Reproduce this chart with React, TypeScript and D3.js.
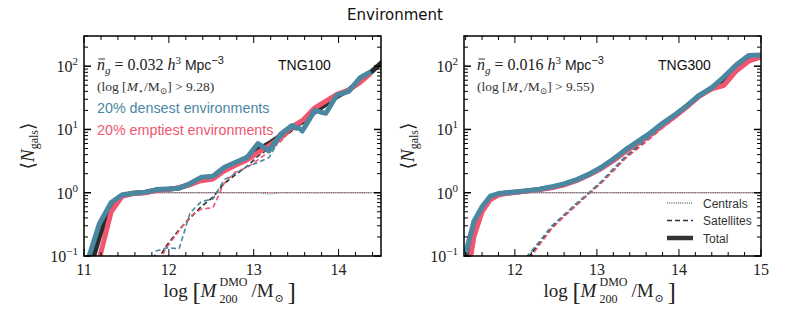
import React from "react";
import * as d3 from "d3";

const W = 789;
const H = 329;
const TEAL = "#4a87a1";
const PINK = "#f0566f";
const BLACK = "#2b2b2b";
const SERIF = "'Liberation Serif', 'DejaVu Serif', serif";
const SANS = "'DejaVu Sans', sans-serif";
const SANS2 = "'Liberation Sans', Arial, sans-serif";

// ---- TNG100 (left panel) ----
const massL = [11.05, 11.18, 11.32, 11.45, 11.58, 11.72, 11.85, 11.98, 12.12, 12.25, 12.38, 12.52, 12.65, 12.78, 12.92, 13.05, 13.18, 13.32, 13.45, 13.58, 13.72, 13.85, 13.98, 14.12, 14.25, 14.38, 14.52];
const totAllL = [0.05, 0.2, 0.62, 0.9, 0.98, 1.01, 1.1, 1.13, 1.19, 1.35, 1.6, 1.8, 2.4, 2.9, 3.6, 4.8, 6.0, 8.0, 10.5, 13.5, 19, 25, 33, 42, 58, 80, 118];
const satAllL = [0.03, 0.03, 0.03, 0.03, 0.03, 0.03, 0.08, 0.15, 0.26, 0.4, 0.6, 0.85, 1.4, 1.9, 2.6, 3.8, 5.0, 7.0, 9.5, 12.5, 18, 24, 32, 41, 57, 79, 117];
const cenAllL = [0.05, 0.2, 0.62, 0.9, 0.98, 1.0, 1.0, 1.0, 1.0, 1.0, 1.0, 1.0, 1.0, 1.0, 1.0, 1.0, 1.0, 1.0, 1.0, 1.0, 1.0, 1.0, 1.0, 1.0, 1.0, 1.0, 1.0];
const totEmptyL = [0.03, 0.09, 0.5, 0.88, 0.97, 1.0, 1.08, 1.12, 1.2, 1.35, 1.55, 1.65, 2.2, 2.7, 3.3, 4.3, 5.5, 7.5, 11, 14, 22, 28, 36, 42, 55, 78];
const satEmptyL = [0.03, 0.03, 0.03, 0.03, 0.03, 0.03, 0.07, 0.14, 0.25, 0.42, 0.55, 0.58, 1.4, 2.1, 2.5, 3.3, 4.5, 6.5, 10, 13, 21, 27, 35, 41, 54, 77];
const cenEmptyL = [0.03, 0.09, 0.5, 0.88, 0.97, 1.0, 1.0, 1.0, 1.0, 1.0, 1.0, 1.0, 1.0, 1.0, 1.0, 1.0, 1.0, 1.0, 1.0, 1.0, 0.99, 1.0, 1.0, 1.0, 1.0, 1.0];
const totDenseL = [0.09, 0.32, 0.7, 0.93, 0.98, 1.02, 1.12, 1.15, 1.18, 1.4, 1.75, 1.82, 2.5, 3.0, 3.6, 6.0, 4.6, 8.5, 11.5, 9.8, 20, 18, 35, 40, 65, 82];
const satDenseL = [0.03, 0.03, 0.03, 0.03, 0.03, 0.03, 0.12, 0.135, 0.13, 0.48, 0.72, 0.8, 1.6, 2.0, 2.6, 3.0, 3.6, 7.5, 10.5, 8.8, 19, 17, 34, 39, 64, 81];
const cenDenseL = [0.09, 0.32, 0.7, 0.93, 0.98, 1.0, 1.0, 1.0, 1.0, 1.0, 1.0, 1.0, 1.0, 1.0, 1.0, 1.0, 0.95, 1.0, 1.0, 1.0, 1.0, 1.0, 1.0, 1.0, 1.0, 1.0];

// ---- TNG300 (right panel) ----
const massR = [11.4, 11.5, 11.6, 11.7, 11.8, 11.9, 12.0, 12.15, 12.3, 12.45, 12.6, 12.75, 12.9, 13.05, 13.2, 13.35, 13.5, 13.65, 13.8, 13.95, 14.1, 14.25, 14.4, 14.55, 14.7, 14.85, 15.0];
const totAllR = [0.07, 0.3, 0.58, 0.85, 0.95, 0.99, 1.02, 1.07, 1.13, 1.22, 1.35, 1.58, 1.92, 2.45, 3.3, 4.6, 6.3, 8.5, 12, 16.5, 23.5, 34, 45, 62, 95, 125, 140];
const satAllR = [0.01, 0.01, 0.01, 0.01, 0.01, 0.01, 0.01, 0.09, 0.16, 0.28, 0.43, 0.65, 0.97, 1.45, 2.3, 3.6, 5.3, 7.5, 11, 15.5, 22.5, 33, 44, 61, 94, 124, 139];
const cenAllR = [0.07, 0.3, 0.58, 0.85, 0.95, 0.99, 1.0, 1.0, 1.0, 1.0, 1.0, 1.0, 1.0, 1.0, 1.0, 1.0, 1.0, 1.0, 1.0, 1.0, 1.0, 1.0, 1.0, 1.0, 1.0, 1.0, 1.0];
const totEmptyR = [0.03, 0.2, 0.5, 0.78, 0.92, 0.98, 1.01, 1.06, 1.12, 1.2, 1.33, 1.55, 1.9, 2.4, 3.2, 4.5, 6.0, 8.2, 11.5, 16, 23, 34, 44, 50, 85, 120, 142];
const satEmptyR = [0.01, 0.01, 0.01, 0.01, 0.01, 0.01, 0.01, 0.08, 0.15, 0.27, 0.42, 0.63, 0.95, 1.4, 2.2, 3.5, 5.0, 7.2, 10.5, 15, 22, 33, 43, 49, 84, 119, 141];
const cenEmptyR = [0.03, 0.2, 0.5, 0.78, 0.92, 0.98, 1.0, 1.0, 1.0, 1.0, 1.0, 1.0, 1.0, 1.0, 1.0, 1.0, 1.0, 1.0, 1.0, 1.0, 1.0, 1.0, 1.0, 1.0, 1.0, 1.0, 1.0];
const totDenseR = [0.11, 0.35, 0.6, 0.88, 0.97, 1.0, 1.03, 1.08, 1.14, 1.24, 1.38, 1.6, 1.95, 2.5, 3.4, 4.8, 6.5, 8.8, 12.5, 17, 24, 35, 46, 68, 105, 148, 150];
const satDenseR = [0.01, 0.01, 0.01, 0.01, 0.01, 0.01, 0.01, 0.1, 0.17, 0.3, 0.45, 0.68, 1.0, 1.5, 2.4, 3.8, 5.5, 7.8, 11.5, 16, 23, 34, 45, 67, 104, 147, 149];
const cenDenseR = [0.11, 0.35, 0.6, 0.88, 0.97, 1.0, 1.0, 1.0, 1.0, 1.0, 1.0, 1.0, 1.0, 1.0, 1.0, 1.0, 1.0, 1.0, 1.0, 1.0, 1.0, 1.0, 1.0, 1.0, 1.0, 1.0, 1.0];

const yMajor = [0.1, 1, 10, 100];
const yMajorExp = ["\u22121", "0", "1", "2"];
const legendLabels = ["Centrals", "Satellites", "Total"];

const TOP = 36;
const BOTTOM = 256;

type Curve = { m: number[]; v: number[]; color: string; kind: "cen" | "sat" | "tot" };

function styleFor(kind: string) {
  if (kind === "tot") return { w: 5, dash: undefined };
  if (kind === "sat") return { w: 1.6, dash: "5 3" };
  return { w: 1, dash: "1 1.2" };
}

function Panel(props: {
  id: string;
  left: number;
  right: number;
  xDomain: [number, number];
  xMajor: number[];
  xMinor: number[];
  curves: Curve[];
  density: string;
  cut: string;
  sim: string;
  showEnv?: boolean;
  showLegend?: boolean;
}) {
  const { id, left, right, xDomain, xMajor, xMinor, curves } = props;
  const x = d3.scaleLinear().domain(xDomain).range([left, right]);
  const y = d3.scaleLog().domain([0.1, 300]).range([BOTTOM, TOP]);
  const line = d3
    .line<[number, number]>()
    .x((d) => x(d[0]))
    .y((d) => y(Math.max(d[1], 0.01)));

  const yMinor: number[] = [];
  [0.1, 1, 10, 100].forEach((dec) => {
    [2, 3, 4, 5, 6, 7, 8, 9].forEach((k) => {
      const v = k * dec;
      if (v <= 300) yMinor.push(v);
    });
  });

  const cx = (left + right) / 2;
  const tx = left + 13;
  const axisColor = "#000";

  return (
    <g>
      <defs>
        <clipPath id={id}>
          <rect x={left} y={TOP} width={right - left} height={BOTTOM - TOP} />
        </clipPath>
      </defs>

      {/* curves */}
      <g clipPath={`url(#${id})`} fill="none">
        {curves.map((c, i) => {
          const s = styleFor(c.kind);
          return (
            <path
              key={i}
              d={line(c.m.slice(0, c.v.length).map((m, j) => [m, c.v[j]] as [number, number])) || ""}
              stroke={c.color}
              strokeWidth={s.w}
              strokeDasharray={s.dash}
              strokeLinejoin="round"
            />
          );
        })}
      </g>

      {/* ticks */}
      <g stroke={axisColor} strokeWidth={1}>
        {xMajor.map((t) => (
          <g key={"xM" + t}>
            <line x1={x(t)} x2={x(t)} y1={BOTTOM} y2={BOTTOM - 7} />
            <line x1={x(t)} x2={x(t)} y1={TOP} y2={TOP + 7} />
          </g>
        ))}
        {xMinor.map((t) => (
          <g key={"xm" + t}>
            <line x1={x(t)} x2={x(t)} y1={BOTTOM} y2={BOTTOM - 4} />
            <line x1={x(t)} x2={x(t)} y1={TOP} y2={TOP + 4} />
          </g>
        ))}
        {yMajor.map((t) => (
          <g key={"yM" + t} strokeWidth={1.5}>
            <line x1={left} x2={left + 7} y1={y(t)} y2={y(t)} />
            <line x1={right} x2={right - 7} y1={y(t)} y2={y(t)} />
          </g>
        ))}
        {yMinor.map((t) => (
          <g key={"ym" + t}>
            <line x1={left} x2={left + 4} y1={y(t)} y2={y(t)} />
            <line x1={right} x2={right - 4} y1={y(t)} y2={y(t)} />
          </g>
        ))}
      </g>
      <rect x={left} y={TOP} width={right - left} height={BOTTOM - TOP} fill="none" stroke={axisColor} strokeWidth={1.5} />

      {/* tick labels */}
      <g fontFamily={SERIF} fontSize={16} fill="#222">
        {xMajor.map((t) => (
          <text key={"xl" + t} x={x(t)} y={275} textAnchor="middle">
            {d3.format("d")(t)}
          </text>
        ))}
        {yMajor.map((t, i) => (
          <text key={"yl" + t} x={left - 6} y={y(t) + 6} textAnchor="end">
            10
            <tspan dy={-7} fontSize={11}>
              {yMajorExp[i]}
            </tspan>
          </text>
        ))}
      </g>

      {/* axis labels */}
      <text
        transform={`translate(${left - 50},${(TOP + BOTTOM) / 2}) rotate(-90)`}
        textAnchor="middle"
        fontFamily={SERIF}
        fontSize={19}
        fill="#222"
      >
        {"\u27E8"}
        <tspan fontStyle="italic">N</tspan>
        <tspan dy={4} fontSize={12}>
          gals
        </tspan>
        <tspan dy={-4}>{"\u27E9"}</tspan>
      </text>
      <g fontFamily={SERIF} fill="#222">
        <text x={cx - 69} y={297} fontSize={19}>log</text>
        <text x={cx - 40} y={300} fontSize={25}>[</text>
        <text x={cx - 32} y={297} fontSize={19} fontStyle="italic">M</text>
        <text x={cx - 13} y={286} fontSize={12}>DMO</text>
        <text x={cx - 13} y={303} fontSize={12}>200</text>
        <text x={cx + 19} y={297} fontSize={19}>/M</text>
        <text x={cx + 42} y={302} fontSize={11}>{"\u2299"}</text>
        <text x={cx + 55} y={300} fontSize={25}>]</text>
      </g>

      {/* annotations */}
      <line x1={tx + 1.5} x2={tx + 8} y1={59} y2={59} stroke="#222" strokeWidth={0.9} />
      <text x={tx} y={70} fontFamily={SERIF} fontSize={16} fill="#222">
        <tspan fontStyle="italic">n</tspan>
        <tspan dy={4} fontSize={11} fontStyle="italic">g</tspan>
        <tspan dy={-4}>{` = ${props.density} `}</tspan>
        <tspan fontStyle="italic">h</tspan>
        <tspan dy={-6} fontSize={11}>3</tspan>
        <tspan dy={6} fontFamily={SANS2} fontSize={14}>{" Mpc"}</tspan>
        <tspan dy={-6} fontSize={11} fontFamily={SANS2}>{"\u22123"}</tspan>
      </text>
      <text x={tx} y={91} fontFamily={SERIF} fontSize={13.5} fill="#333">
        (log [<tspan fontStyle="italic">M</tspan>
        <tspan dy={3} fontSize={9}>{"\u22C6"}</tspan>
        <tspan dy={-3}>/M</tspan>
        <tspan dy={3} fontSize={9}>{"\u2299"}</tspan>
        <tspan dy={-3}>{`] > ${props.cut})`}</tspan>
      </text>
      <text x={right - 103} y={70} fontFamily={SANS2} fontSize={14} fill="#111">
        {props.sim}
      </text>
      {props.showEnv && (
        <g fontFamily={SANS2} fontSize={14.3}>
          <text x={tx} y={113} fill={TEAL}>20% densest environments</text>
          <text x={tx} y={135} fill={PINK}>20% emptiest environments</text>
        </g>
      )}
      {props.showLegend && (
        <g fontFamily={SANS2} fontSize={12} fill="#333">
          {legendLabels.map((lab, i) => {
            const s = styleFor(["cen", "sat", "tot"][i]);
            const ly = 203 + i * 17.5;
            return (
              <g key={lab}>
                <line x1={right - 94} x2={right - 68} y1={ly} y2={ly} stroke="#333" strokeWidth={s.w === 5 ? 4.5 : s.w} strokeDasharray={s.dash} />
                <text x={right - 58} y={ly + 4.5}>{lab}</text>
              </g>
            );
          })}
        </g>
      )}
    </g>
  );
}

function curveSet(
  m: number[],
  all: number[][],
  empty: number[][],
  dense: number[][]
): Curve[] {
  const kinds: ("cen" | "sat" | "tot")[] = ["cen", "sat", "tot"];
  const out: Curve[] = [];
  [
    [all, BLACK],
    [empty, PINK],
    [dense, TEAL],
  ].forEach(([set, color]) => {
    (set as number[][]).forEach((v, i) => out.push({ m, v, color: color as string, kind: kinds[i] }));
  });
  return out;
}

export default function App() {
  const curvesL = curveSet(
    massL,
    [cenAllL, satAllL, totAllL],
    [cenEmptyL, satEmptyL, totEmptyL],
    [cenDenseL, satDenseL, totDenseL]
  );
  const curvesR = curveSet(
    massR,
    [cenAllR, satAllR, totAllR],
    [cenEmptyR, satEmptyR, totEmptyR],
    [cenDenseR, satDenseR, totDenseR]
  );
  return (
    <svg width={W} height={H} style={{ position: "absolute", left: 0, top: 0, background: "#fff" }}>
      <rect width={W} height={H} fill="#fff" />
      <text x={395} y={20} textAnchor="middle" fontFamily={SANS} fontSize={15} fill="#111">
        Environment
      </text>
      <Panel
        id="clipL"
        left={84}
        right={381}
        xDomain={[11, 14.5]}
        xMajor={[11, 12, 13, 14]}
        xMinor={[11.2, 11.4, 11.6, 11.8, 12.2, 12.4, 12.6, 12.8, 13.2, 13.4, 13.6, 13.8, 14.2, 14.4]}
        curves={curvesL}
        density="0.032"
        cut="9.28"
        sim="TNG100"
        showEnv
      />
      <Panel
        id="clipR"
        left={464}
        right={761}
        xDomain={[11.38, 15]}
        xMajor={[12, 13, 14, 15]}
        xMinor={[11.4, 11.6, 11.8, 12.2, 12.4, 12.6, 12.8, 13.2, 13.4, 13.6, 13.8, 14.2, 14.4, 14.6, 14.8]}
        curves={curvesR}
        density="0.016"
        cut="9.55"
        sim="TNG300"
        showLegend
      />
    </svg>
  );
}
